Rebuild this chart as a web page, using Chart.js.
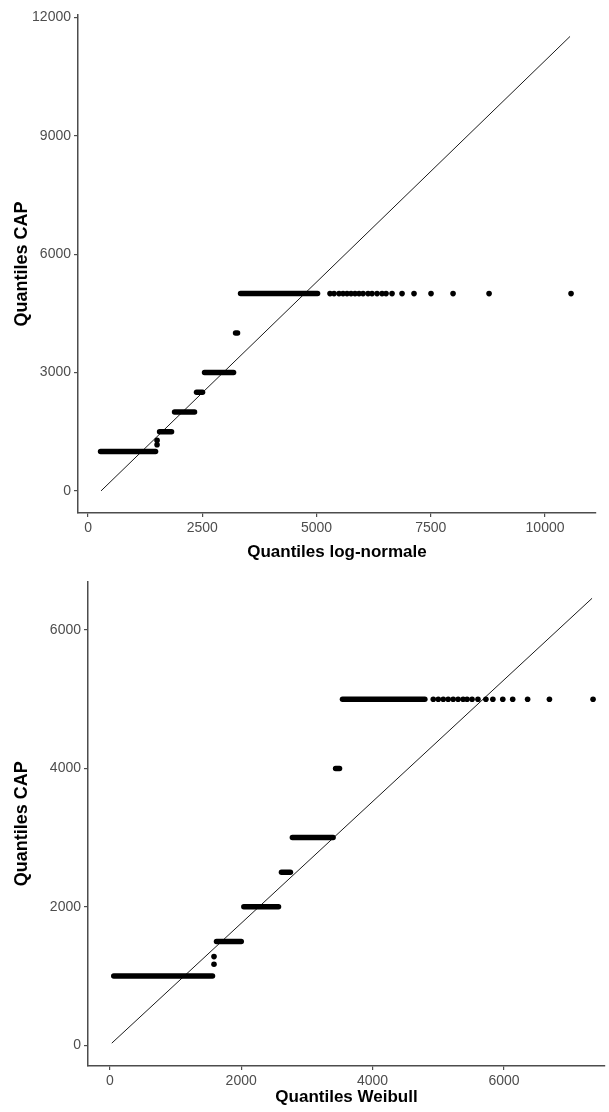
<!DOCTYPE html>
<html>
<head>
<meta charset="utf-8">
<script src="https://cdn.jsdelivr.net/npm/chart.js@4.4.1/dist/chart.umd.min.js"></script>
<style>
  html, body { margin: 0; padding: 0; background: #fff; }
  canvas { display: block; }
</style>
</head>
<body>
<canvas id="qqLognormal" width="609" height="570"></canvas>
<canvas id="qqWeibull" width="609" height="542"></canvas>
<script>
// sorted CAP values: each level is a long run of tied points
const capLevels = [1000, 1500, 2000, 2500, 3000, 4000, 5000];
const oddCap = [1170, 1280];
const tailCap = 5000;

// log-normale theoretical quantiles (start / end of each run)
const lnRunStart = [274, 1565, 1893, 2374, 2549, 3228, 3337];
const lnRunEnd = [1477, 1827, 2330, 2505, 3184, 3271, 5022];
const lnOddX = [1510, 1510];
const lnTailX = [5295, 5383, 5492, 5580, 5667, 5755, 5842, 5930, 6018, 6127, 6214,
  6324, 6433, 6521, 6652, 6871, 7133, 7505, 7987, 8775, 10569];
const lnLineX = [284, 10547];
const lnLineY = [0, 11517];
const lnTicksX = [0, 2500, 5000, 7500, 10000];
const lnTicksY = [0, 3000, 6000, 9000, 12000];

// Weibull theoretical quantiles
const wbRunStart = [60, 1624, 2040, 2613, 2779, 3437, 3542];
const wbRunEnd = [1563, 2001, 2568, 2749, 3399, 3497, 4796];
const wbOddX = [1586, 1586];
const wbTailX = [4924, 5000, 5076, 5151, 5227, 5302, 5378, 5438, 5514, 5604, 5725,
  5831, 5982, 6133, 6360, 6692, 7356];
const wbLineX = [30, 7341];
const wbLineY = [29, 6459];
const wbTicksX = [0, 2000, 4000, 6000];
const wbTicksY = [0, 2000, 4000, 6000];

const ink = '#000';
const grey = '#4d4d4d';
const family = "'Liberation Sans', Arial, sans-serif";

// the x titles look condensed in the original, use the narrow face if present
function hasFont(name) {
  const c = document.createElement('canvas').getContext('2d');
  c.font = '20px monospace';
  const a = c.measureText('Quantiles Weibull').width;
  c.font = `20px '${name}', monospace`;
  return c.measureText('Quantiles Weibull').width !== a;
}
const narrow = hasFont('Liberation Sans Narrow');
const xTitleFont = narrow
  ? { family: "'Liberation Sans Narrow', sans-serif", size: 19, weight: 'bold' }
  : { family: family, size: 17, weight: 'bold' };
const yTitleFont = { family: family, size: 18, weight: 'bold' };

function qqDatasets(runStart, runEnd, oddX, tailX, lineX, lineY) {
  const sets = capLevels.map((lvl, i) => ({
    data: [{ x: runStart[i], y: lvl }, { x: runEnd[i], y: lvl }],
    showLine: true,
    borderColor: ink,
    borderWidth: 5.5,
    borderCapStyle: 'round',
    pointRadius: 0
  }));
  const pts = oddX.map((x, i) => ({ x, y: oddCap[i] }))
    .concat(tailX.map(x => ({ x, y: tailCap })));
  sets.push({ data: pts, backgroundColor: ink, borderWidth: 0, pointRadius: 2.8 });
  sets.push({
    data: lineX.map((x, i) => ({ x, y: lineY[i] })),
    showLine: true, borderColor: '#1a1a1a', borderWidth: 1, pointRadius: 0
  });
  return sets;
}

function axis(min, max, ticks, title, size, titlePad, horizontal) {
  return {
    type: 'linear',
    min: min,
    max: max,
    afterBuildTicks: s => { s.ticks = ticks.map(v => ({ value: v })); },
    afterFit: s => { if (horizontal) s.height = size; else s.width = size; },
    grid: { drawOnChartArea: false, drawTicks: true, tickLength: 4, color: grey, lineWidth: 1.2 },
    border: { display: true, color: grey, width: 1.5 },
    ticks: {
      autoSkip: false, maxRotation: 0, padding: 3, color: grey,
      font: { family: family, size: 14 },
      callback: v => String(v)
    },
    title: {
      display: true, text: title, color: '#000',
      font: horizontal ? xTitleFont : yTitleFont,
      padding: titlePad
    }
  };
}

function qqChart(id, sets, xScale, yScale, padding) {
  return new Chart(document.getElementById(id), {
    type: 'scatter',
    data: { datasets: sets },
    options: {
      responsive: false,
      animation: false,
      layout: { padding: padding },
      plugins: { legend: { display: false }, tooltip: { enabled: false } },
      scales: { x: xScale, y: yScale }
    }
  });
}

qqChart('qqLognormal',
  qqDatasets(lnRunStart, lnRunEnd, lnOddX, lnTailX, lnLineX, lnLineY),
  axis(-220, 11115, lnTicksX, 'Quantiles log-normale', 57, { top: 0, bottom: 7 }, true),
  axis(-560, 12060, lnTicksY, 'Quantiles CAP', 78, { top: 11, bottom: 0 }, false),
  { top: 15, right: 13, left: 0, bottom: 0 });

qqChart('qqWeibull',
  qqDatasets(wbRunStart, wbRunEnd, wbOddX, wbTailX, wbLineX, wbLineY),
  axis(-332, 7538, wbTicksX, 'Quantiles Weibull', 46, { top: 0, bottom: 4 }, true),
  axis(-301, 6703, wbTicksY, 'Quantiles CAP', 88, { top: 11, bottom: 0 }, false),
  { top: 8, right: 0, left: 0, bottom: 0 });
</script>
</body>
</html>
